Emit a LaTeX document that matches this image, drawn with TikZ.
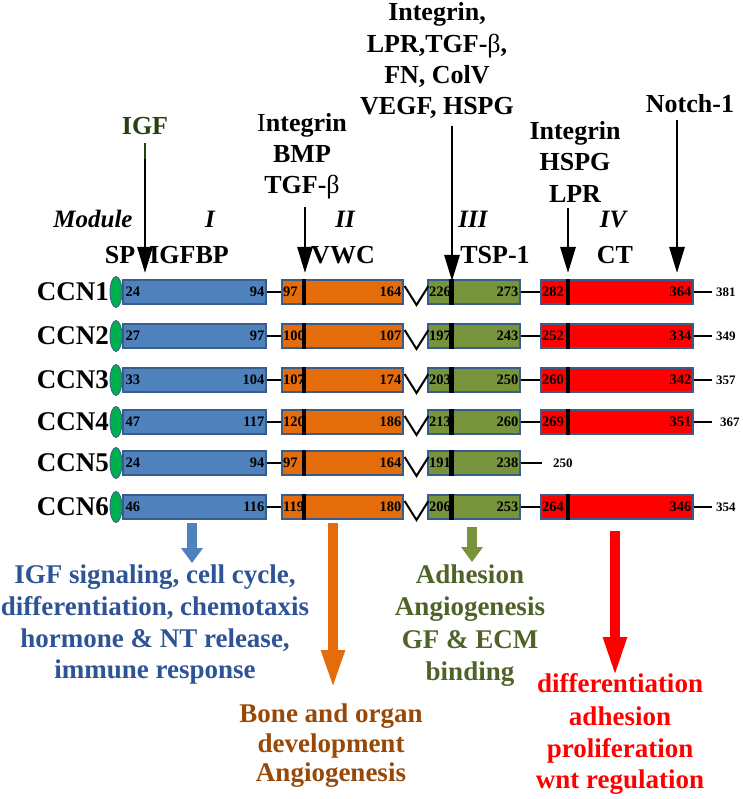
\documentclass[tikz,border=0pt]{standalone}
\usepackage{fontspec}
\setmainfont{Liberation Serif}
\usetikzlibrary{arrows.meta,shapes.geometric}
\definecolor{cblue}{RGB}{79,129,189}
\definecolor{cborder}{RGB}{56,93,138}
\definecolor{corange}{RGB}{228,108,10}
\definecolor{cgreen}{RGB}{119,147,60}
\definecolor{cred}{RGB}{255,0,0}
\definecolor{cell}{RGB}{0,176,80}
\definecolor{tblue}{RGB}{46,84,150}
\definecolor{tbrown}{RGB}{152,72,7}
\definecolor{tgreen}{RGB}{79,98,40}
\definecolor{igfgreen}{RGB}{38,64,16}
\begin{document}
\begin{tikzpicture}[x=1pt,y=-1pt,
  dom/.style={draw=cborder,line width=1.2pt,inner sep=0pt,minimum height=24pt},
  barnode/.style={fill=black,inner sep=0pt,minimum width=4.5pt,minimum height=26pt},
  spnode/.style={ellipse,draw=cborder,line width=0.8pt,fill=cell,inner sep=0pt,minimum width=12pt,minimum height=31pt},
  num/.style={font=\fontsize{14.5}{14.5}\selectfont\bfseries,inner sep=0pt},
  endnum/.style={font=\fontsize{13}{13}\selectfont\bfseries,inner sep=0pt,anchor=west},
  conn/.style={line width=2pt,black},
  ccn/.style={font=\fontsize{27}{30}\selectfont\bfseries,inner sep=0pt},
  lbl/.style={font=\fontsize{26}{30}\selectfont\bfseries,inner sep=0pt,anchor=base},
  modl/.style={font=\fontsize{25}{30}\selectfont\bfseries\itshape,inner sep=0pt,anchor=base},
  res/.style={font=\fontsize{27}{30}\selectfont\bfseries,inner sep=0pt,anchor=base},
  bigarrow/.style={line width=2.8pt,-{Triangle[length=26pt,width=15pt]}},
  blockarrow/.style={line width=10pt,-{Triangle[length=#1,width=21pt]}}
]
\useasboundingbox (0,0) rectangle (742,799);

% rows: common part
\foreach \r/\y/\a/\b/\c/\d/\e/\f in {1/292/24/94/97/164/226/273, 2/336/27/97/100/107/197/243, 3/380/33/104/107/174/203/250, 4/422/47/117/120/186/213/260, 5/463/24/94/97/164/191/238, 6/507/46/116/119/180/206/253}
{
  \node[ccn,anchor=east] (ccn\r) at (109,\y) {CCN\r};
  \node[spnode] (sp\r) at (116,\y) {};
  \node[dom,fill=cblue,minimum width=143pt] (bl\r) at (194.5,\y) {};
  \node[dom,fill=corange,minimum width=121pt] (or\r) at (342.5,\y) {};
  \node[dom,fill=cgreen,minimum width=92pt] (gr\r) at (474,\y) {};
  \node[barnode] (ob\r) at (304,\y) {};
  \node[barnode] (gb\r) at (451.5,\y) {};
  \node[num,anchor=west] (na\r) at ([shift={(3,0)}]bl\r.west) {\a};
  \node[num,anchor=east] (nb\r) at ([shift={(-2,0)}]bl\r.east) {\b};
  \node[num,anchor=west] (nc\r) at ([shift={(1.5,0)}]or\r.west) {\c};
  \node[num,anchor=east] (nd\r) at ([shift={(-2,0)}]or\r.east) {\d};
  \node[num,anchor=west] (ne\r) at ([shift={(1.5,0)}]gr\r.west) {\e};
  \node[num,anchor=east] (nf\r) at ([shift={(-2,0)}]gr\r.east) {\f};
  \draw[conn] (bl\r.east) -- (or\r.west);
  \draw[conn] ([shift={(1,-6)}]or\r.east) -- (416.5,\y+13) -- ([shift={(1,-6)}]gr\r.west);
}

% rows: CT module
\foreach \r/\y/\g/\h/\z/\zx in {1/292/282/364/381/716, 2/336/252/334/349/716, 3/380/260/342/357/716, 4/422/269/351/367/720, 6/507/264/346/354/716}
{
  \node[dom,fill=cred,minimum width=152pt] (rd\r) at (617,\y) {};
  \node[barnode] (rb\r) at (568,\y) {};
  \node[num,anchor=west] (ng\r) at ([shift={(1.5,0)}]rd\r.west) {\g};
  \node[num,anchor=east] (nh\r) at ([shift={(-2,0)}]rd\r.east) {\h};
  \draw[conn] (gr\r.east) -- (rd\r.west);
  \coordinate (end\r) at (712,\y);
  \draw[conn] (rd\r.east) -- (end\r);
  \node[endnum] (nz\r) at (\zx,\y) {\z};
}
\coordinate (end5) at (542,463);
\draw[conn] (gr5.east) -- (end5);
\node[endnum] (nz5) at (553,463) {250};

% top labels
\node[lbl] (c3a) at (437,21) {Integrin,};
\node[lbl] (c3b) at (437,53) {LPR,TGF-\textmd{β},};
\node[lbl] (c3c) at (437,84) {FN, ColV};
\node[lbl] (c3d) at (437,115) {VEGF, HSPG};
\node[lbl,text=igfgreen] (igf) at (145,135) {IGF};
\node[lbl] (c2a) at (302,132) {\textmd{I}ntegrin};
\node[lbl] (c2b) at (302,163) {BMP};
\node[lbl] (c2c) at (302,194) {TGF-\textmd{β}};
\node[lbl] (c4a) at (575,140) {Integrin};
\node[lbl] (c4b) at (575,171) {HSPG};
\node[lbl] (c4c) at (575,203) {LPR};
\node[lbl] (notch) at (690,113) {Notch-1};

% binding arrows
\coordinate (a1s) at (145,143); \coordinate (a1e) at (145,273);
\coordinate (a2s) at (305,207); \coordinate (a2e) at (305,273);
\coordinate (a3s) at (452,126); \coordinate (a3e) at (452,281);
\coordinate (a4s) at (568,208); \coordinate (a4e) at (568,273);
\coordinate (a5s) at (677,120); \coordinate (a5e) at (677,273);
\draw[bigarrow] (a1s) -- (a1e);
\draw[line width=2.8pt,igfgreen] (a1s) -- ++(0,16);
\draw[bigarrow] (a2s) -- (a2e);
\draw[bigarrow] (a3s) -- (a3e);
\draw[bigarrow] (a4s) -- (a4e);
\draw[bigarrow] (a5s) -- (a5e);

% module labels
\node[modl] (modname) at (93,228) {Module};
\node[modl] (m1) at (210,228) {I};
\node[modl] (m2) at (345,228) {II};
\node[modl] (m3) at (473,228) {III};
\node[modl] (m4) at (613,228) {IV};
\node[lbl] (dsp) at (120,263) {SP};
\node[lbl] (d1) at (189,263) {IGFBP};
\node[lbl] (d2) at (343,263) {VWC};
\node[lbl] (d3) at (495,263) {TSP-1};
\node[lbl] (d4) at (615,263) {CT};

% function arrows
\coordinate (f1s) at (192,523); \coordinate (f1e) at (192,563);
\coordinate (f2s) at (333,523); \coordinate (f2e) at (333,690);
\coordinate (f3s) at (472,527); \coordinate (f3e) at (472,562);
\coordinate (f4s) at (615,531); \coordinate (f4e) at (615,678);
\draw[blockarrow=15pt,cblue] (f1s) -- (f1e);
\draw[blockarrow=40pt,corange] (f2s) -- (f2e);
\draw[blockarrow=15pt,cgreen] (f3s) -- (f3e);
\draw[blockarrow=41pt,cred] (f4s) -- (f4e);

% function texts
\node[res,text=tblue] (t1a) at (155,583) {IGF signaling, cell cycle,};
\node[res,text=tblue] (t1b) at (155,615) {differentiation, chemotaxis};
\node[res,text=tblue] (t1c) at (155,647) {hormone \& NT release,};
\node[res,text=tblue] (t1d) at (155,678) {immune response};
\node[res,text=tbrown] (t2a) at (331,722) {Bone and organ};
\node[res,text=tbrown] (t2b) at (331,752) {development};
\node[res,text=tbrown] (t2c) at (331,781) {Angiogenesis};
\node[res,text=tgreen] (t3a) at (470,583) {Adhesion};
\node[res,text=tgreen] (t3b) at (470,615) {Angiogenesis};
\node[res,text=tgreen] (t3c) at (470,648) {GF \& ECM};
\node[res,text=tgreen] (t3d) at (470,680) {binding};
\node[res,text=cred] (t4a) at (620,692) {differentiation};
\node[res,text=cred] (t4b) at (620,725) {adhesion};
\node[res,text=cred] (t4c) at (620,757) {proliferation};
\node[res,text=cred] (t4d) at (620,788) {wnt regulation};
\end{tikzpicture}
\end{document}
